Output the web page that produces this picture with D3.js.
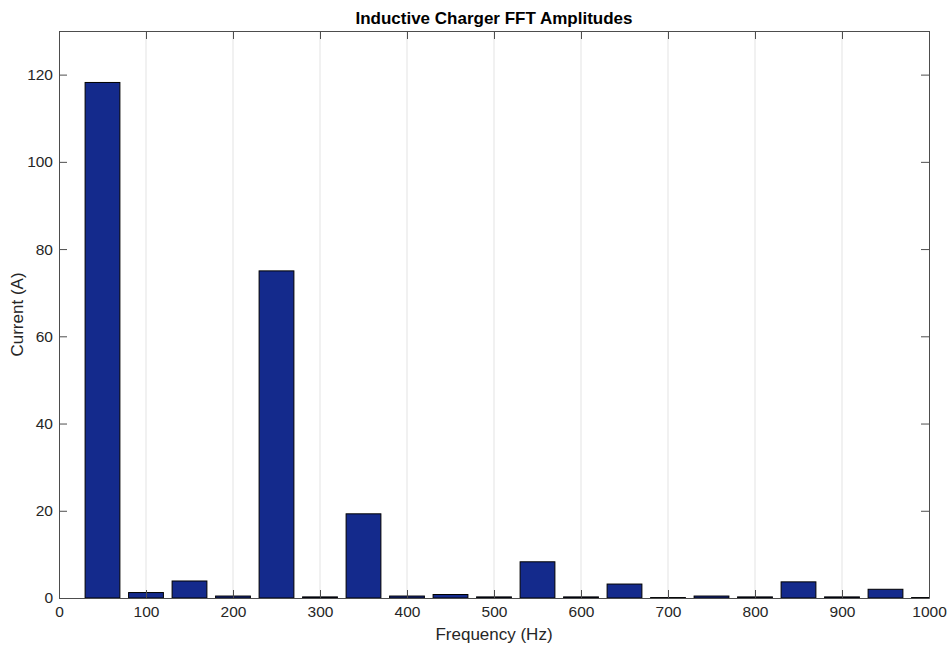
<!DOCTYPE html>
<html>
<head>
<meta charset="utf-8">
<script src="https://cdn.jsdelivr.net/npm/d3@7"></script>
<style>
  body { margin: 0; background: #fff; }
  text { font-family: "Liberation Sans", Arial, sans-serif; }
</style>
</head>
<body>
<div id="chart"></div>
<script>
var width = 948, height = 647;
var margin = {top: 31, right: 19, bottom: 49, left: 59};

// harmonic frequencies (Hz) and FFT amplitudes (A)
var freqs = [50, 100, 150, 200, 250, 300, 350, 400, 450, 500,
             550, 600, 650, 700, 750, 800, 850, 900, 950, 1000];
var amps = [118.2, 1.25, 3.9, 0.45, 75.0, 0.25, 19.3, 0.45, 0.8, 0.25,
            8.3, 0.25, 3.2, 0.1, 0.45, 0.25, 3.7, 0.25, 2.0, 0.1];
var xTicks = [0, 100, 200, 300, 400, 500, 600, 700, 800, 900, 1000];
var yTicks = [0, 20, 40, 60, 80, 100, 120];

var data = freqs.map((f, i) => ({f: f, v: amps[i]}));

var svg = d3.select("#chart").append("svg")
    .attr("width", width)
    .attr("height", height);

var x = d3.scaleLinear().domain([0, 1000]).range([margin.left, width - margin.right]);
var y = d3.scaleLinear().domain([0, 130]).range([height - margin.bottom, margin.top]);

var axisColor = "#4d4d4d";
var tickLen = 8;
var tickFont = 15.5;

svg.append("defs").append("clipPath").attr("id", "plotclip")
  .append("rect")
    .attr("x", x(0)).attr("y", y(130))
    .attr("width", x(1000) - x(0)).attr("height", y(0) - y(130));

// vertical grid
svg.append("g")
  .selectAll("line")
  .data(xTicks.slice(1, -1))
  .enter().append("line")
    .attr("x1", d => x(d)).attr("x2", d => x(d))
    .attr("y1", y(130)).attr("y2", y(0))
    .attr("stroke", "#e3e3e3")
    .attr("stroke-width", 1);

// bars, width 0.8 of spacing like matlab
var barW = 40;
svg.append("g")
    .attr("clip-path", "url(#plotclip)")
  .selectAll("rect")
  .data(data)
  .enter().append("rect")
    .attr("x", d => x(d.f - barW / 2))
    .attr("y", d => y(d.v))
    .attr("width", d => x(d.f + barW / 2) - x(d.f - barW / 2))
    .attr("height", d => y(0) - y(d.v))
    .attr("fill", "#142a8c")
    .attr("stroke", "#000")
    .attr("stroke-width", 1);

// axes (ticks inward, on all four sides)
// d3 adds max(inner,0) to padding, inner is negative here so padding is the gap
svg.append("g")
    .attr("transform", `translate(0,${y(0)})`)
    .call(d3.axisBottom(x).tickValues(xTicks).tickSizeInner(-tickLen).tickSizeOuter(0)
        .tickPadding(8).tickFormat(d3.format("d")))
    .call(g => g.selectAll("text").attr("font-size", tickFont).attr("fill", "#262626"));

svg.append("g")
    .attr("transform", `translate(0,${y(130)})`)
    .call(d3.axisTop(x).tickValues(xTicks).tickSizeInner(-tickLen).tickSizeOuter(0).tickFormat(""));

svg.append("g")
    .attr("transform", `translate(${x(0)},0)`)
    .call(d3.axisLeft(y).tickValues(yTicks).tickSizeInner(-tickLen).tickSizeOuter(0).tickPadding(6))
    .call(g => g.selectAll("text").attr("font-size", tickFont).attr("fill", "#262626"));

svg.append("g")
    .attr("transform", `translate(${x(1000)},0)`)
    .call(d3.axisRight(y).tickValues(yTicks).tickSizeInner(-tickLen).tickSizeOuter(0).tickFormat(""));

svg.selectAll(".domain").attr("stroke", axisColor);
svg.selectAll(".tick line").attr("stroke", axisColor);

// title and labels
svg.append("text")
    .attr("x", (x(0) + x(1000)) / 2)
    .attr("y", 24)
    .attr("text-anchor", "middle")
    .attr("font-size", 17)
    .attr("font-weight", "bold")
    .attr("fill", "#000")
    .text("Inductive Charger FFT Amplitudes");

svg.append("text")
    .attr("x", (x(0) + x(1000)) / 2)
    .attr("y", 640)
    .attr("text-anchor", "middle")
    .attr("font-size", 17)
    .attr("fill", "#262626")
    .text("Frequency (Hz)");

svg.append("text")
    .attr("transform", `translate(23,${(y(0) + y(130)) / 2}) rotate(-90)`)
    .attr("text-anchor", "middle")
    .attr("font-size", 17)
    .attr("fill", "#262626")
    .text("Current (A)");
</script>
</body>
</html>
